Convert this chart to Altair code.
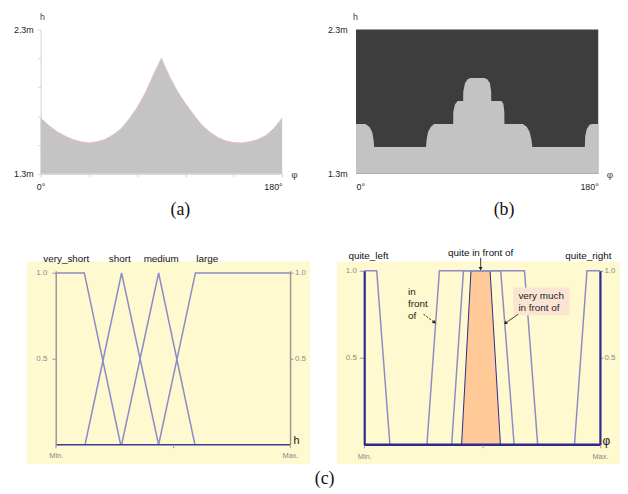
import altair as alt
import pandas as pd

# ---------------- data ----------------
# (a) height profile h(phi)
phi_a = [0, 6, 12, 18, 24, 30, 36, 42, 48, 54, 60, 66, 72, 78, 84, 90,
         96, 102, 108, 114, 120, 126, 132, 138, 144, 150, 156, 162, 168, 174, 180]
h_a = [1.686, 1.636, 1.594, 1.562, 1.538, 1.522, 1.514, 1.522, 1.538, 1.570, 1.612,
       1.680, 1.760, 1.860, 1.985, 2.100, 1.975, 1.870, 1.785, 1.710, 1.640, 1.590,
       1.552, 1.528, 1.516, 1.514, 1.522, 1.538, 1.566, 1.616, 1.686]

# (b) quantised profile
phi_b = [0, 7, 10, 12, 13, 13.5, 52, 52.5, 53.5, 55.5, 58, 72.2, 72.3, 73.5, 75.5,
         79.6, 79.7, 81, 83, 85, 95.5, 97.5, 99.5, 100.4, 100.5, 108, 109.5, 110.2, 110.3,
         124, 127, 129, 130.3, 131, 170, 170.3, 171.5, 173.5, 175.5, 180]
h_b = [1.645, 1.645, 1.625, 1.59, 1.54, 1.486, 1.486, 1.54, 1.59, 1.625, 1.645, 1.645, 1.73, 1.78, 1.805,
       1.805, 1.87, 1.93, 1.955, 1.964, 1.964, 1.955, 1.93, 1.87, 1.805, 1.805, 1.785, 1.73, 1.645,
       1.645, 1.625, 1.59, 1.54, 1.486, 1.486, 1.56, 1.61, 1.64, 1.645, 1.645]

# (c) left: fuzzy sets of h (Min..Max normalised)
c1_sets = ["very_short", "short", "medium", "large"]
c1_x = [[0, 0.122, 0.277], [0.125, 0.281, 0.439], [0.281, 0.439, 0.594], [0.439, 0.596, 1.0]]
c1_mu = [[1, 1, 0], [0, 1, 0], [0, 1, 0], [0, 1, 1]]
c1_label_x = [0.045, 0.273, 0.450, 0.647]
c1_label_y = [1.082, 1.082, 1.082, 1.082]

# (c) right: fuzzy sets of phi
c2_sets = ["quite_left", "in front of", "very much in front of", "quite_right"]
c2_x = [[0, 0.053, 0.109], [0.266, 0.319, 0.680, 0.736], [0.371, 0.421, 0.579, 0.636], [0.892, 0.945, 1.0]]
c2_mu = [[1, 1, 0], [0, 1, 1, 0], [0, 1, 1, 0], [0, 1, 1]]
qf_x = [0.413, 0.453, 0.534, 0.578]          # quite in front of (filled)
qf_mu = [0, 1, 1, 0]
c2_top_labels = ["quite_left", "quite in front of", "quite_right"]
c2_top_x = [0.018, 0.494, 0.951]
c2_top_y = [1.085, 1.104, 1.085]
note_text = ["in\nfront\nof", "very much\nin front of"]
note_x = [0.186, 0.654]
note_y = [0.908, 0.884]
box_x = [0.632, 0.871]
box_y = [0.745, 0.904]
arrow_x = [0.494, 0.252, 0.653]
arrow_y = [1.074, 0.750, 0.750]
arrow_x2 = [0.494, 0.298, 0.599]
arrow_y2 = [1.012, 0.703, 0.699]
arrow_style = ["solid", "dashed", "solid"]
arrow_angle = [180, 127, 235]
captions = ["(a)", "(b)", "(c)"]

# ---------------- style ----------------
FONT = "Liberation Sans"
SERIF = "Liberation Serif"
YEL = "#FEF9CE"
LAV = "#8C8CC9"
BLUE = "#2A2A90"
ORANGE = "#FFC998"
PINK = "#FCE4D3"
GAX = "#999999"
GLAB = "#8a8a8a"

W_A, W_B, H_TOP = 244.3, 245.0, 146
AX_W1, EXT1 = 237.0, 15.3
AX_W2, EXT2 = 238.4, 8.3
H_C = 176
one = pd.DataFrame({"k": [0]})

deg_expr = "datum.value == 0 ? '0°' : datum.value == 180 ? '180°' : ''"
m_expr = "abs(datum.value - 1.3) < 0.01 ? '1.3m' : abs(datum.value - 2.3) < 0.01 ? '2.3m' : ''"
mm_expr = "datum.value == 0 ? 'Min.' : datum.value == 1 ? 'Max.' : ''"
title_kw = dict(titleAngle=0, titleAlign="center", titleBaseline="middle",
                titleFontWeight="normal", titleFont=FONT)

# ---------------- (a) ----------------
df_a = pd.DataFrame({"phi": phi_a, "h": h_a})
xa = alt.Scale(domain=[0, 180], nice=False, zero=False)
ya = alt.Scale(domain=[1.3, 2.3], nice=False, zero=False)
ax_a = alt.Axis(values=[0, 36, 72, 108, 144, 180], labelExpr=deg_expr, domainColor="#d2d2d2",
                tickColor="#d2d2d2", tickSize=3, labelFontSize=9, labelColor="#222", labelPadding=6,
                labelFlush=False,
                labelAlign={"condition": {"test": "datum.value == 180", "value": "right"}, "value": "center"},
                title="φ", titleX=256.3, titleY=1, titleFontSize=10, titleColor="#444", **title_kw)
ay_a = alt.Axis(values=[1.3, 1.5, 1.7, 1.9, 2.1, 2.3], labelExpr=m_expr, domainColor="#d2d2d2",
                tickColor="#d2d2d2", tickSize=3, labelFontSize=9, labelColor="#222", labelPadding=4.5,
                labelFlush=False, title="h", titleX=1.3, titleY=-13, titleFontSize=9,
                titleColor="#444", **title_kw)
area_a = alt.Chart(df_a).mark_area(color="#c4c4c4").encode(
    x=alt.X("phi:Q", scale=xa, axis=ax_a), y=alt.Y("h:Q", scale=ya, axis=ay_a), y2=alt.datum(1.3))
line_a = alt.Chart(df_a).mark_line(color="#e9bcbc", strokeWidth=1).encode(
    x=alt.X("phi:Q", scale=xa, axis=ax_a), y=alt.Y("h:Q", scale=ya, axis=ay_a))
cap_a = alt.Chart(one).mark_text(text=captions[0], font=SERIF, fontSize=18, color="#111",
                                  baseline="middle").encode(x=alt.value(141.3), y=alt.value(183))
anchor = alt.Chart(one).mark_square(size=1, opacity=0).encode(x=alt.value(-32.2), y=alt.value(-18.5))
chart_a = alt.layer(area_a, line_a, cap_a, anchor).properties(width=W_A, height=H_TOP)

# ---------------- (b) ----------------
df_b = pd.DataFrame({"phi": phi_b, "h": h_b})
ax_b = alt.Axis(values=[0, 180], labelExpr=deg_expr, domain=False, ticks=False, labelFontSize=9,
                labelColor="#222", labelPadding=9, labelFlush=True,
                title="φ", titleX=256.3, titleY=0.3, titleFontSize=10, titleColor="#444", **title_kw)
ay_b = alt.Axis(values=[1.3, 2.3], labelExpr=m_expr, domain=False, ticks=False, labelFontSize=9,
                labelColor="#222", labelPadding=9, labelFlush=False,
                title="h", titleX=-1, titleY=-13, titleFontSize=9, titleColor="#444", **title_kw)
area_b = alt.Chart(df_b).mark_area(color="#c3c3c3").encode(
    x=alt.X("phi:Q", scale=xa, axis=ax_b), y=alt.Y("h:Q", scale=ya, axis=ay_b), y2=alt.datum(1.3))
cap_b = alt.Chart(one).mark_text(text=captions[1], font=SERIF, fontSize=18, color="#111",
                                  baseline="middle").encode(x=alt.value(149.7), y=alt.value(183))
chart_b = alt.layer(area_b, cap_b).properties(
    width=W_B, height=H_TOP, view=alt.ViewBackground(fill="#3d3d3d", strokeWidth=0))


def long_df(names, xs, mus):
    rows = []
    for n, xx, mm in zip(names, xs, mus):
        for i, (a, b) in enumerate(zip(xx, mm)):
            rows.append({"set": n, "x": a, "mu": b, "order": i})
    return pd.DataFrame(rows)


# ---------------- (c) left ----------------
xs1 = alt.Scale(domain=[-EXT1 / AX_W1, 1], nice=False, zero=False)
ys1 = alt.Scale(domain=[0, 1.013], nice=False, zero=False)
df_c1 = long_df(c1_sets, c1_x, c1_mu)
bg1 = alt.Chart(one).mark_rect(color=YEL).encode(
    x=alt.value(-13.7), x2=alt.value(272.6), y=alt.value(-9.3), y2=alt.value(195.7))
ax_c1 = alt.Axis(values=[0, 0.5, 1], labelExpr=mm_expr, domain=False, tickColor=GAX, tickSize=3,
                 labelFontSize=7.5, labelColor=GLAB, labelPadding=4, labelFlush=False, zindex=2,
                 title="h", titleX=258.2, titleY=-4, titleFontSize=11, titleColor="#111", **title_kw)
ayl_c1 = alt.Axis(values=[0.5, 1], format=".1f", offset=-EXT1, domainColor=GAX, domainWidth=1.5,
                  tickColor=GAX, tickSize=4, labelFontSize=8, labelColor=GLAB, labelPadding=5,
                  labelFlush=False, title="", zindex=2)
ayr_c1 = alt.Axis(orient="right", values=[0.5, 1], format=".1f", domainColor=GAX, domainWidth=1.5,
                  tickColor=GAX, tickSize=3, labelFontSize=8, labelColor=GLAB, labelPadding=1.5,
                  labelFlush=False, title="", zindex=2)
lines1 = alt.Chart(df_c1).mark_line(color=LAV, strokeWidth=1.5).encode(
    x=alt.X("x:Q", scale=xs1, axis=ax_c1), y=alt.Y("mu:Q", scale=ys1, axis=ayl_c1),
    detail="set:N", order="order:Q")
base1 = alt.Chart(one).mark_rule(color="#3a3a9c", strokeWidth=1.6).encode(
    x=alt.XDatum(0, scale=xs1, axis=ax_c1), x2=alt.datum(1), y=alt.YDatum(0, scale=ys1, axis=None))
lab1 = alt.Chart(pd.DataFrame({"name": c1_sets, "x": c1_label_x, "y": c1_label_y})).mark_text(
    font=FONT, fontSize=10, color="#111", baseline="middle").encode(
    x=alt.X("x:Q", scale=xs1, axis=ax_c1), y=alt.Y("y:Q", scale=ys1, axis=None), text="name:N")
raxis1 = alt.Chart(one).mark_rule(opacity=0).encode(
    y=alt.YDatum(0, type="quantitative", scale=ys1, axis=ayr_c1))
cap_c = alt.Chart(one).mark_text(text=captions[2], font=SERIF, fontSize=18, color="#111",
                                  baseline="middle").encode(x=alt.value(287.3), y=alt.value(210.7))
chart_c1 = alt.layer(bg1, lines1, base1, lab1, raxis1, cap_c).resolve_axis(y="independent").properties(
    width=AX_W1 + EXT1, height=H_C)

# ---------------- (c) right ----------------
xs2 = alt.Scale(domain=[-EXT2 / AX_W2, 1], nice=False, zero=False)
ys2 = alt.Scale(domain=[0, 1], nice=False, zero=False)
df_c2 = long_df(c2_sets, c2_x, c2_mu)
bg2 = alt.Chart(one).mark_rect(color=YEL).encode(
    x=alt.value(-19.1), x2=alt.value(266.9), y=alt.value(-9.4), y2=alt.value(195.6))
ax_c2 = alt.Axis(values=[0, 0.5, 1], labelExpr=mm_expr, domain=False, tickColor=GAX, tickSize=3,
                 labelFontSize=7.5, labelColor=GLAB, labelPadding=5, labelFlush=False, zindex=2,
                 title="φ", titleX=252.6, titleY=-4.3, titleFontSize=12, titleColor="#111", **title_kw)
ayl_c2 = alt.Axis(values=[0.5, 1], format=".1f", offset=-EXT2, domainColor=BLUE, domainWidth=2.2,
                  tickColor=GAX, tickSize=5, labelFontSize=8, labelColor=GLAB, labelPadding=3,
                  labelFlush=False, title="", zindex=2)
ayr_c2 = alt.Axis(orient="right", values=[0.5, 1], format=".1f", domainColor=BLUE, domainWidth=2.2,
                  tickColor=GAX, tickSize=3, labelFontSize=8, labelColor=GLAB, labelPadding=1,
                  labelFlush=False, title="", zindex=2)
area2 = alt.Chart(pd.DataFrame({"x": qf_x, "mu": qf_mu})).mark_area(
    fill=ORANGE, stroke=BLUE, strokeWidth=1, opacity=1).encode(
    x=alt.X("x:Q", scale=xs2, axis=ax_c2), y=alt.Y("mu:Q", scale=ys2, axis=None), y2=alt.datum(0))
lines2 = alt.Chart(df_c2).mark_line(color=LAV, strokeWidth=1.5).encode(
    x=alt.X("x:Q", scale=xs2, axis=ax_c2), y=alt.Y("mu:Q", scale=ys2, axis=ayl_c2),
    detail="set:N", order="order:Q")
base2 = alt.Chart(one).mark_rule(color=BLUE, strokeWidth=2.5).encode(
    x=alt.XDatum(0, scale=xs2, axis=ax_c2), x2=alt.datum(1), y=alt.YDatum(0, scale=ys2, axis=None))
box2 = alt.Chart(pd.DataFrame({"x1": [box_x[0]], "x2": [box_x[1]], "y1": [box_y[0]], "y2": [box_y[1]]})
                 ).mark_rect(color=PINK).encode(
    x=alt.X("x1:Q", scale=xs2, axis=ax_c2), x2="x2:Q",
    y=alt.Y("y1:Q", scale=ys2, axis=None), y2="y2:Q")
notes2 = alt.Chart(pd.DataFrame({"t": note_text, "x": note_x, "y": note_y})).mark_text(
    font=FONT, fontSize=10, color="#222", align="left", baseline="top", lineBreak="\n",
    lineHeight=12.3).encode(
    x=alt.X("x:Q", scale=xs2, axis=ax_c2), y=alt.Y("y:Q", scale=ys2, axis=None), text="t:N")
lab2 = alt.Chart(pd.DataFrame({"name": c2_top_labels, "x": c2_top_x, "y": c2_top_y})).mark_text(
    font=FONT, fontSize=10, color="#111", baseline="middle").encode(
    x=alt.X("x:Q", scale=xs2, axis=ax_c2), y=alt.Y("y:Q", scale=ys2, axis=None), text="name:N")
df_arr = pd.DataFrame({"x": arrow_x, "y": arrow_y, "x2": arrow_x2, "y2": arrow_y2,
                       "style": arrow_style, "angle": arrow_angle})
shafts = alt.Chart(df_arr).mark_rule(color="#222", strokeWidth=1).encode(
    x=alt.X("x:Q", scale=xs2, axis=ax_c2), x2="x2:Q",
    y=alt.Y("y:Q", scale=ys2, axis=None), y2="y2:Q",
    strokeDash=alt.StrokeDash("style:N", scale=alt.Scale(domain=["solid", "dashed"],
                                                         range=[[1, 0], [2, 1.5]]), legend=None))
heads = alt.Chart(df_arr).mark_point(shape="triangle-up", filled=True, size=16, color="#222",
                                     opacity=1).encode(
    x=alt.X("x2:Q", scale=xs2, axis=ax_c2), y=alt.Y("y2:Q", scale=ys2, axis=None),
    angle=alt.Angle("angle:Q", scale=None))
raxis2 = alt.Chart(one).mark_rule(opacity=0).encode(
    y=alt.YDatum(0, type="quantitative", scale=ys2, axis=ayr_c2))
chart_c2 = alt.layer(bg2, area2, lines2, base2, box2, notes2, lab2, shafts, heads, raxis2
                     ).resolve_axis(y="independent").properties(width=AX_W2 + EXT2, height=H_C)

chart = alt.concat(chart_a, chart_b, chart_c1, chart_c2, columns=2,
                   spacing={"row": 98, "column": 66}, bounds="flush", align="none").properties(
    padding=0).configure_view(strokeWidth=0).configure_axis(
    grid=False, labelFont=FONT, titleFont=FONT)

chart.save("out.html", embed_options={"renderer": "svg", "actions": False})
